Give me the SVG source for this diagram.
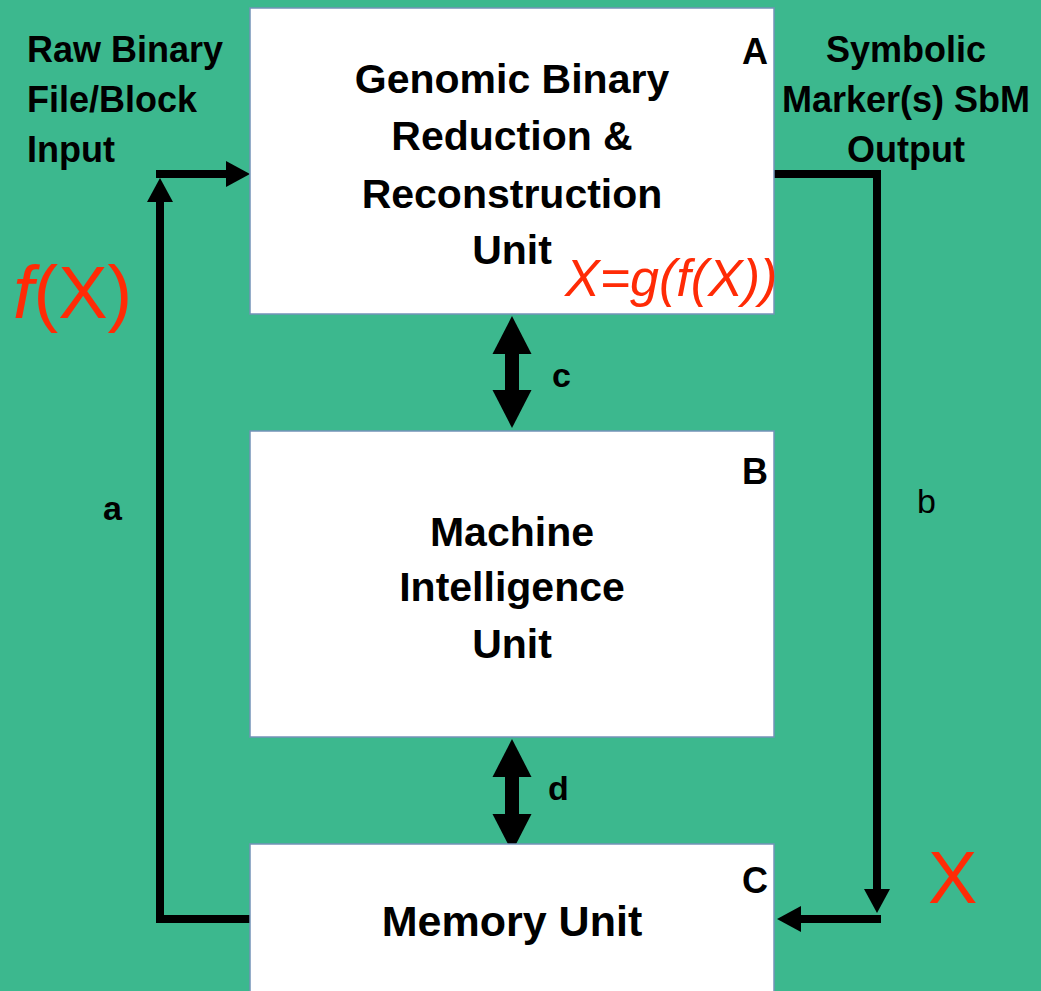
<svg xmlns="http://www.w3.org/2000/svg" width="1041" height="991" viewBox="0 0 1041 991">
  <style>
    .box { fill: #ffffff; stroke: #7392b8; stroke-width: 1.5; }
    .main { font-family: "Liberation Sans", Arial, sans-serif; font-weight: bold; font-size: 41px; fill: #000; text-anchor: middle; }
    .side { font-family: "Liberation Sans", Arial, sans-serif; font-weight: bold; font-size: 36px; fill: #000; }
    .tag { font-family: "Liberation Sans", Arial, sans-serif; font-weight: bold; font-size: 36px; fill: #000; text-anchor: end; }
    .lbl { font-family: "Liberation Sans", Arial, sans-serif; font-size: 34px; fill: #000; }
    .red { font-family: "Liberation Sans", Arial, sans-serif; fill: #ff2b06; }
    .conn { fill: none; stroke: #000; stroke-width: 8; }
    .dbl { fill: none; stroke: #000; stroke-width: 14; }
  </style>
  <defs>
    <marker id="arr" markerUnits="userSpaceOnUse" markerWidth="26" markerHeight="28" refX="0" refY="14" orient="auto" overflow="visible">
      <path d="M0,1 L24,14 L0,27 z" fill="#000"/>
    </marker>
    <marker id="big" markerUnits="userSpaceOnUse" markerWidth="40" markerHeight="40" refX="0" refY="20" orient="auto-start-reverse" overflow="visible">
      <path d="M0,0.5 L38,20 L0,39.5 z" fill="#000"/>
    </marker>
  </defs>
  <rect x="0" y="0" width="1041" height="991" fill="#3cb88e"/>

  <g id="connectors">
    <path class="conn" d="M250,919 H160 V202" marker-end="url(#arr)"/>
    <path class="conn" d="M156,174 H226" marker-end="url(#arr)"/>
    <path class="conn" d="M774,174 H877 V889" marker-end="url(#arr)"/>
    <path class="conn" d="M881,919 H801" marker-end="url(#arr)"/>
    <path class="dbl" d="M512,354 V390" marker-start="url(#big)" marker-end="url(#big)"/>
    <path class="dbl" d="M512,777 V814" marker-start="url(#big)" marker-end="url(#big)"/>
    <text class="lbl" x="103" y="520" font-weight="bold">a</text>
    <text class="lbl" x="917" y="513">b</text>
    <text class="lbl" x="552" y="387" font-weight="bold">c</text>
    <text class="lbl" x="548" y="800" font-weight="bold">d</text>
  </g>

  <g id="nodeA">
    <rect class="box" x="250" y="8" width="524" height="306"/>
    <text class="main" x="512" y="93">Genomic Binary</text>
    <text class="main" x="512" y="150">Reduction &amp;</text>
    <text class="main" x="512" y="208">Reconstruction</text>
    <text class="main" x="512" y="264">Unit</text>
    <text class="tag" x="768" y="64">A</text>
    <text class="red" x="565" y="296" font-size="52" font-style="italic">X=g(f(X))</text>
  </g>

  <g id="nodeB">
    <rect class="box" x="250" y="431" width="524" height="306"/>
    <text class="main" x="512" y="546">Machine</text>
    <text class="main" x="512" y="601">Intelligence</text>
    <text class="main" x="512" y="658">Unit</text>
    <text class="tag" x="768" y="484">B</text>
  </g>

  <g id="nodeC">
    <rect class="box" x="250" y="844" width="524" height="160"/>
    <text class="main" x="512" y="936" style="font-size:43px">Memory Unit</text>
    <text class="tag" x="768" y="893">C</text>
  </g>

  <g id="input-label">
    <text class="side" x="27" y="62">Raw Binary</text>
    <text class="side" x="27" y="112">File/Block</text>
    <text class="side" x="27" y="162">Input</text>
  </g>

  <g id="output-label">
    <text class="side" x="906" y="62" text-anchor="middle">Symbolic</text>
    <text class="side" x="906" y="112" text-anchor="middle">Marker(s) SbM</text>
    <text class="side" x="906" y="162" text-anchor="middle">Output</text>
  </g>

  <g id="fX">
    <text class="red" x="13" y="318" font-size="74"><tspan font-style="italic">f</tspan>(X)</text>
  </g>
  <g id="X">
    <text class="red" x="928" y="903" font-size="74">X</text>
  </g>
</svg>
